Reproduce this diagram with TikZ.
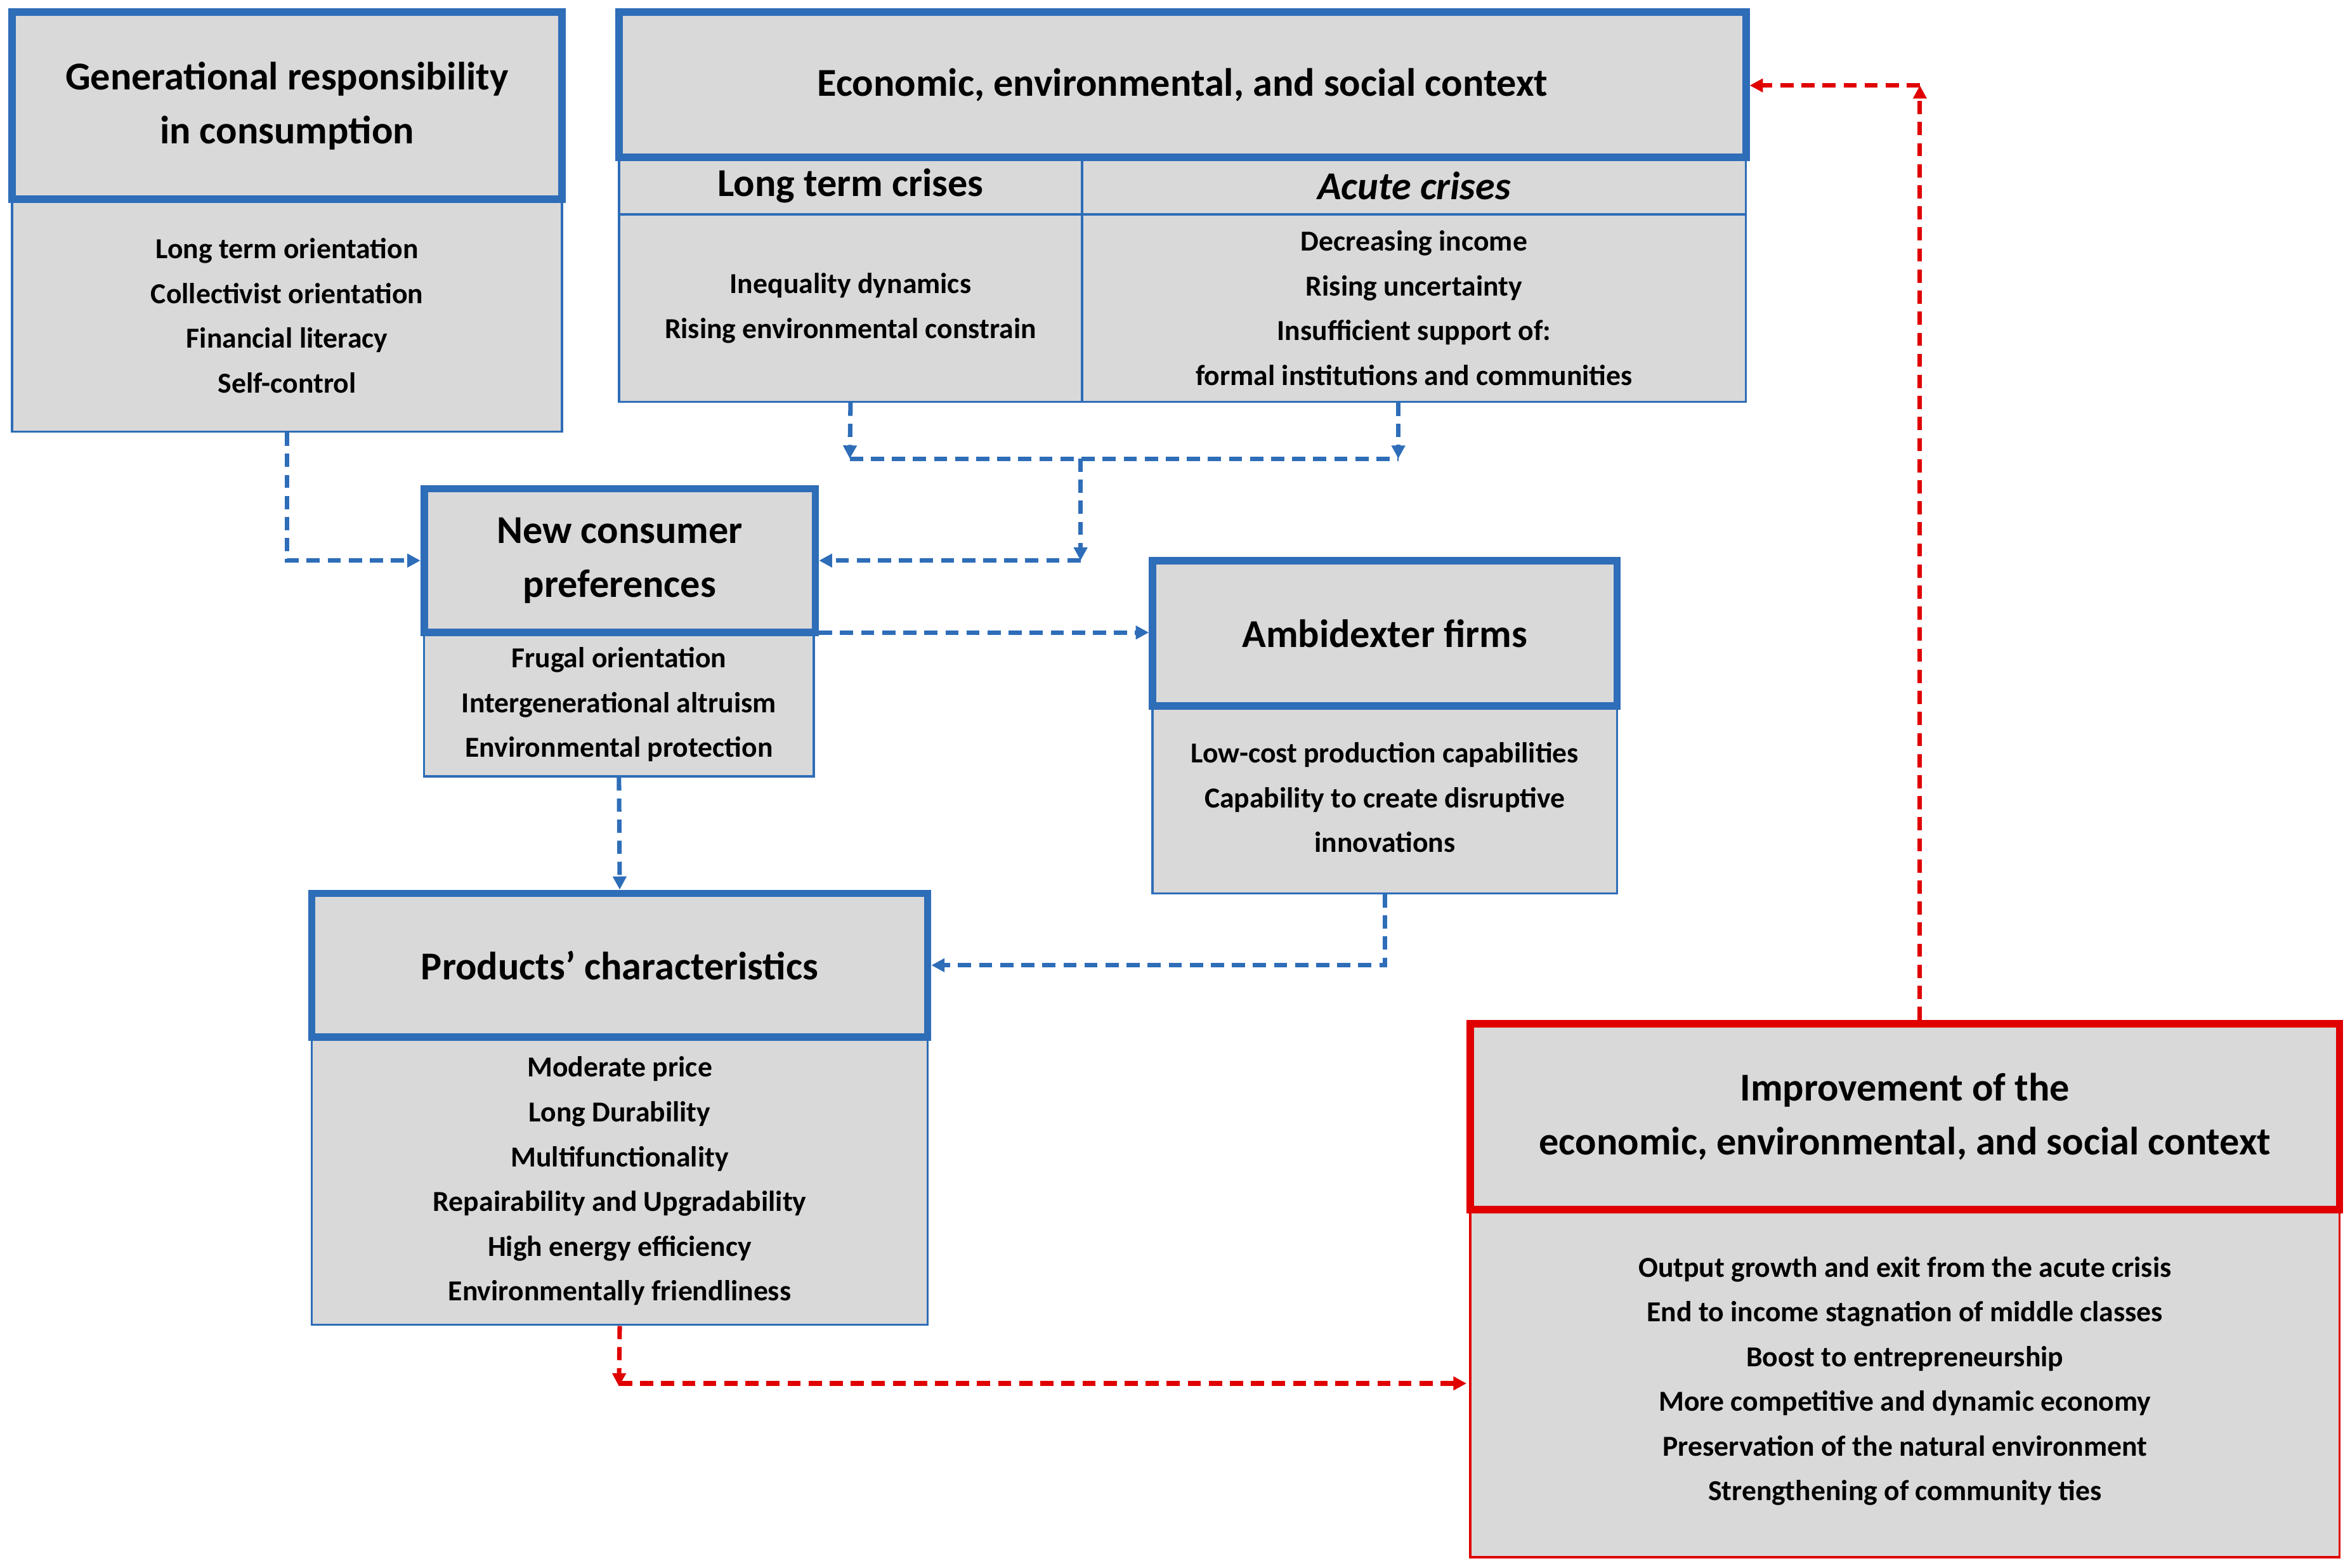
\documentclass[tikz,border=0pt]{standalone}
\usepackage{fontspec}
\setmainfont{Carlito}
\usetikzlibrary{fit,arrows.meta}
\definecolor{bl}{HTML}{2E6DB8}
\definecolor{rd}{HTML}{E00000}
\definecolor{gr}{HTML}{D9D9D9}
\begin{document}
\begin{tikzpicture}[x=0.02cm,y=-0.02cm,
 hdr/.style={draw=bl,line width=2.8pt,fill=gr,inner sep=0pt},
 hdrr/.style={draw=rd,line width=2.8pt,fill=gr,inner sep=0pt},
 body/.style={draw=bl,line width=0.8pt,fill=gr,inner sep=0pt},
 bodyr/.style={draw=rd,line width=0.8pt,fill=gr,inner sep=0pt},
 ttl/.style={font=\fontsize{15}{20.5}\selectfont\bfseries,align=center,inner sep=0pt},
 txt/.style={font=\fontsize{11}{17}\selectfont\bfseries,align=center,inner sep=0pt},
 bc/.style={draw=bl,line width=1.7pt,dash pattern=on 5pt off 3pt,-{Triangle[length=5pt,width=5pt]}},
 rc/.style={draw=rd,line width=1.7pt,dash pattern=on 5pt off 3pt,-{Triangle[length=5pt,width=5pt]}},
 bl0/.style={draw=bl,line width=1.7pt,dash pattern=on 5pt off 3pt}]
\useasboundingbox (0,0) rectangle (1568,1046);
% Generational
\node[body,fit={(8,133)(375,288)}] (genb) {};
\node[hdr,fit={(8,8)(375,133)}] (gen) {};
\node[ttl] at (gen.center) {Generational responsibility\\in consumption};
\node[txt] at (genb.center) {Long term orientation\\Collectivist orientation\\Financial literacy\\Self-control};
% Economic
\node[body,fit={(413,105)(722,143)}] (lth) {};
\node[body,fit={(722,105)(1165,143)}] (ach) {};
\node[body,fit={(413,143)(722,268)}] (ltb) {};
\node[body,fit={(722,143)(1165,268)}] (acb) {};
\node[hdr,fit={(413,8)(1165,105)}] (eco) {};
\node[ttl] at (eco.center) {Economic, environmental, and social context};
\node[ttl] at (lth.center) {Long term crises};
\node[ttl] at (ach.center) {\itshape Acute crises};
\node[txt] at (ltb.center) {Inequality dynamics\\Rising environmental constrain};
\node[txt] at (acb.center) {Decreasing income\\Rising uncertainty\\Insufficient support of:\\formal institutions and communities};
% NCP
\node[body,fit={(283,422)(543,518)}] (ncpb) {};
\node[hdr,fit={(283,326)(544,422)}] (ncp) {};
\node[ttl] at (ncp.center) {New consumer\\preferences};
\node[txt] at (ncpb.center) {Frugal orientation\\Intergenerational altruism\\Environmental protection};
% Ambidexter
\node[body,fit={(769,471)(1079,596)}] (ambb) {};
\node[hdr,fit={(769,374)(1079,471)}] (amb) {};
\node[ttl] at (amb.center) {Ambidexter firms};
\node[txt,anchor=north] at (924,495) {Low-cost production capabilities\\Capability to create disruptive\\innovations};
% Products
\node[body,fit={(208,692)(619,884)}] (prb) {};
\node[hdr,fit={(208,596)(619,692)}] (pr) {};
\node[ttl] at (pr.center) {Products’ characteristics};
\node[txt] at (prb.center) {Moderate price\\Long Durability\\Multifunctionality\\Repairability and Upgradability\\High energy efficiency\\Environmentally friendliness};
% Improvement
\node[bodyr,fit={(981,807)(1561,1039)}] (imb) {};
\node[hdrr,fit={(981,683)(1561,807)}] (im) {};
\node[ttl,font=\fontsize{15}{20.5}\selectfont\bfseries] at (im.center) {Improvement of the\\economic, environmental, and social context};
\node[txt] at (923,923) (dummy) {};
\node[txt,anchor=north] at (1271,838) {Output growth and exit from the acute crisis\\End to income stagnation of middle classes\\Boost to entrepreneurship\\More competitive and dynamic economy\\Preservation of the natural environment\\Strengthening of community ties};
% coordinates
\coordinate (j1) at (567,306);
\coordinate (j2) at (933,306);
\coordinate (j3) at (721,306);
\coordinate (j4) at (721,374);
\coordinate (r1) at (413,925);
\coordinate (r2) at (1281,57);
% blue connectors
\draw[bc] (genb.south) |- (ncp.west);
\draw[bc] (ltb.south) -- (j1);
\draw[bc] (acb.south -| j2) -- (j2);
\draw[bl0] (j1) -- (j2);
\draw[bc] (j3) -- (j4);
\draw[bc] (j4) -- (ncp.east |- j4);
\draw[bc] (ncp.east |- 0,422) -- (amb.west |- 0,422);
\draw[bc] (ncpb.south) -- (pr.north);
\draw[bc] (ambb.south) |- (pr.east);
% red
\draw[rc] (prb.south) -- (r1);
\draw[rc] (413,923) -- (im.west |- 0,923);
\draw[rc] (im.north -| r2) -- (r2);
\draw[rc] (r2) -- (eco.east |- r2);
\end{tikzpicture}
\end{document}
